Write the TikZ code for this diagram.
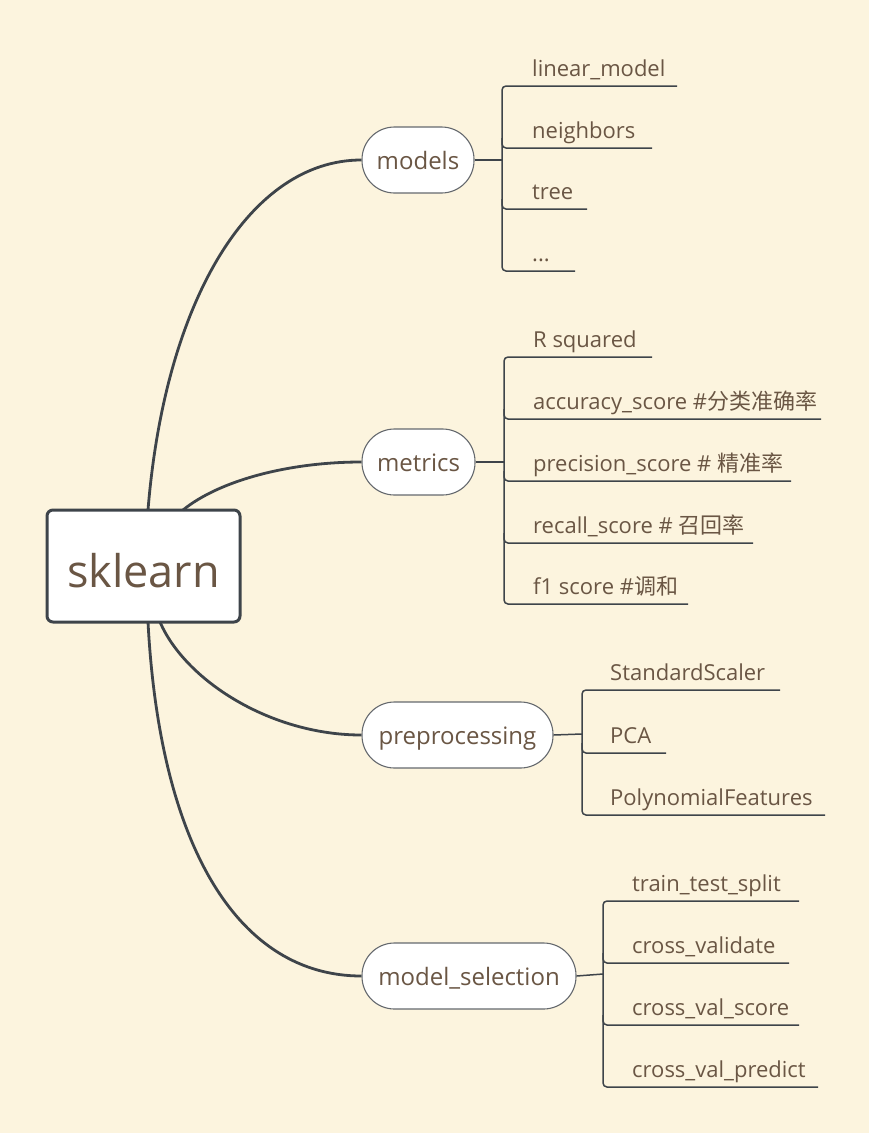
\documentclass[tikz,border=0pt]{standalone}
\usepackage{fontspec}
\setmainfont{Open Sans}
\newfontfamily\cjk{Noto Sans CJK SC}
\definecolor{bg}{RGB}{252,244,222}
\definecolor{txt}{RGB}{106,86,68}
\definecolor{ln}{RGB}{62,68,74}
\tikzset{
  root/.style={draw=ln, line width=3pt, fill=white, rounded corners=6pt, minimum width=193pt, minimum height=112pt, inner sep=0pt, text=txt, text height=44pt, text depth=2pt, font=\fontsize{45}{50}\selectfont},
  pill/.style={draw=ln!80, line width=1.1pt, fill=white, rounded corners=32.5pt, minimum height=66pt, inner sep=0pt, text=txt, text height=19pt, text depth=1pt, font=\fontsize{24}{27}\selectfont},
  leaf/.style={anchor=base west, inner sep=0pt, text=txt, font=\fontsize{22}{25}\selectfont},
  conn/.style={draw=ln, line width=2.8pt},
  brack/.style={draw=ln, line width=1.5pt, rounded corners=4pt},
}
\begin{document}
\begin{tikzpicture}[x=1pt,y=-1pt]
\useasboundingbox (0,0) rectangle (874,1140);
\fill[white] (0,0) rectangle (874,1140);
\fill[bg] (0,0) rectangle (869,1133);

% root
\node[root] (sk) at (143.5,566) {sklearn};

% main branches
\node[pill, minimum width=112pt] (models) at (418,160) {models};
\node[pill, minimum width=113pt] (metrics) at (418.5,462) {metrics};
\node[pill, minimum width=191pt] (prep) at (457.5,735) {preprocessing};
\node[pill, minimum width=214pt] (msel) at (469,976) {model\_selection};

\coordinate (s1) at (148,510);
\coordinate (s2) at (183,510);
\coordinate (s3) at (160,622);
\coordinate (s4) at (148,622);

\draw[conn] (s1) .. controls (165,300) and (250,160) .. (models.west);
\draw[conn] (s2) .. controls (220,480) and (290,462) .. (metrics.west);
\draw[conn] (s3) .. controls (185,680) and (270,735) .. (prep.west);
\draw[conn] (s4) .. controls (160,850) and (240,976) .. (msel.west);

% ---------- models ----------
\node[leaf] (m1) at (532,76) {linear\_model};
\node[leaf] (m2) at (532,138) {neighbors};
\node[leaf] (m3) at (532,199) {tree};
\node[leaf] (m4) at (532,261) {...};
\coordinate (mb) at (502,160);
\draw[ln, line width=1.5pt] (models.east) -- (mb);
\draw[brack] (677,86) -- (502,86) -- (502,271) -- (575,271);
\draw[brack] (502,138) -- (502,148) -- (652,148);
\draw[brack] (502,199) -- (502,209) -- (587,209);

% ---------- metrics ----------
\node[leaf] (r1) at (533,347) {R squared};
\node[leaf] (r2) at (533,409) {accuracy\_score \#{\cjk 分类准确率}};
\node[leaf] (r3) at (533,471) {precision\_score \# {\cjk 精准率}};
\node[leaf] (r4) at (533,533) {recall\_score \# {\cjk 召回率}};
\node[leaf] (r5) at (533,594) {f1 score \#{\cjk 调和}};
\coordinate (rb) at (504,462);
\draw[ln, line width=1.5pt] (metrics.east) -- (rb);
\draw[brack] (652,357) -- (504,357) -- (504,604) -- (688,604);
\draw[brack] (504,409) -- (504,419) -- (821,419);
\draw[brack] (504,471) -- (504,481) -- (791,481);
\draw[brack] (504,533) -- (504,543) -- (753,543);

% ---------- preprocessing ----------
\node[leaf] (p1) at (610,680) {StandardScaler};
\node[leaf] (p2) at (610,743) {PCA};
\node[leaf] (p3) at (610,805) {PolynomialFeatures};
\coordinate (pb) at (582,734);
\draw[ln, line width=1.5pt] (prep.east) -- (pb);
\draw[brack] (780,690) -- (582,690) -- (582,815) -- (825,815);
\draw[brack] (582,743) -- (582,753) -- (666,753);

% ---------- model_selection ----------
\node[leaf] (c1) at (632,891) {train\_test\_split};
\node[leaf] (c2) at (632,953) {cross\_validate};
\node[leaf] (c3) at (632,1015) {cross\_val\_score};
\node[leaf] (c4) at (632,1077) {cross\_val\_predict};
\coordinate (cb) at (603,974);
\draw[ln, line width=1.5pt] (msel.east) -- (cb);
\draw[brack] (799,901) -- (603,901) -- (603,1087) -- (818,1087);
\draw[brack] (603,953) -- (603,963) -- (789,963);
\draw[brack] (603,1015) -- (603,1025) -- (799,1025);
\end{tikzpicture}
\end{document}
